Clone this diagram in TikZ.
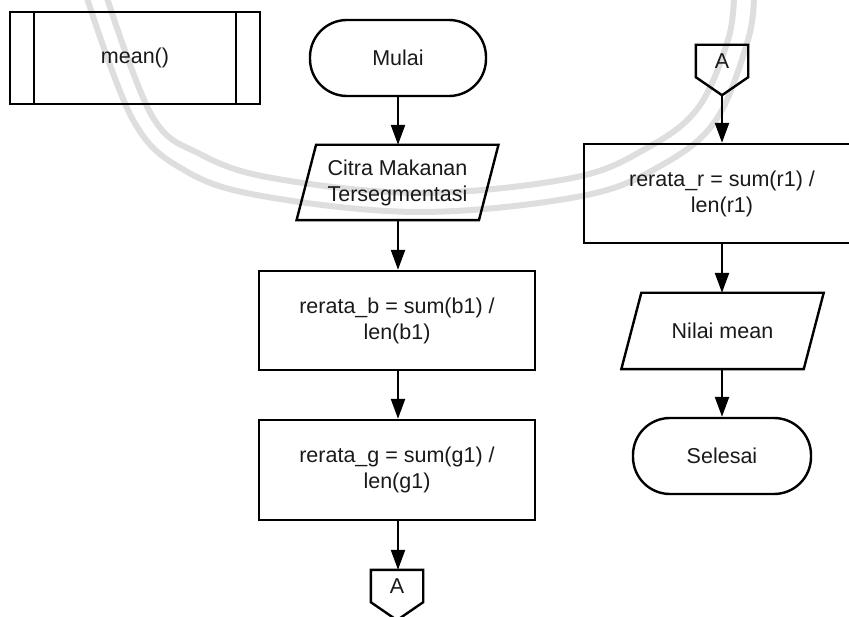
\documentclass[tikz,border=0pt]{standalone}
\usepackage{fontspec}
\setmainfont{Liberation Sans}
\usetikzlibrary{arrows.meta}
\begin{document}
\begin{tikzpicture}[x=1pt,y=-1pt,
  every node/.style={font=\fontsize{21.5}{26}\selectfont, text=black!90, inner sep=0pt},
  edge/.style={draw=black, line width=2.4pt},
  procbox/.style={edge, rectangle, minimum width=276pt, minimum height=99pt, align=center},
  termbox/.style={edge, rectangle, rounded corners=37pt, minimum height=76pt, align=center},
  iobox/.style={rectangle, minimum width=182pt, minimum height=75pt, align=center},
  pagebox/.style={rectangle, minimum width=52pt, minimum height=32pt},
  flow/.style={edge, -{Triangle[length=20pt,width=14pt]}},
  wm/.style={draw=black!13, line width=6pt, line cap=round}]
\useasboundingbox (0,0) rectangle (849,617);
\clip (0,0) rectangle (849,617);

% faint background seal
\draw[wm] plot[smooth, tension=0.6] coordinates {(86,-5) (133,120) (184,170) (262,196) (420,212) (582,196) (662,165) (716,120) (748,40) (754,-5)};
\draw[wm] plot[smooth, tension=0.6] coordinates {(106,-5) (152,116) (200,154) (272,178) (420,193) (572,178) (647,148) (698,108) (728,40) (734,-5)};

% predefined process
\node[procbox, minimum width=250pt, minimum height=92pt] (mean) at (135,58) {mean()};
\draw[edge] ([xshift=25pt]mean.north west) -- ([xshift=25pt]mean.south west);
\draw[edge] ([xshift=-25pt]mean.north east) -- ([xshift=-25pt]mean.south east);

% left column
\node[termbox, minimum width=176pt] (mulai) at (398,58) {Mulai};
\node[iobox] (citra) at (397.5,182.5) {Citra Makanan\\Tersegmentasi};
\draw[edge] ([xshift=9.75pt]citra.north west) -- ([xshift=9.75pt]citra.north east)
  -- ([xshift=-9.75pt]citra.south east) -- ([xshift=-9.75pt]citra.south west) -- cycle;
\node[procbox] (rb) at (397,320.5) {rerata\_b = sum(b1) /\\len(b1)};
\node[procbox, minimum height=100pt] (rg) at (397,470) {rerata\_g = sum(g1) /\\len(g1)};
\node[pagebox] (aout) at (397,586) {A};
\coordinate (aouttip) at ([yshift=-18pt]aout.south);
\draw[edge] (aout.north west) -- (aout.north east) -- (aout.south east) -- (aouttip)
  -- (aout.south west) -- cycle;

% right column
\node[pagebox] (ain) at (722,61) {A};
\coordinate (aintip) at ([yshift=-18pt]ain.south);
\draw[edge] (ain.north west) -- (ain.north east) -- (ain.south east) -- (aintip)
  -- (ain.south west) -- cycle;
\node[procbox] (rr) at (722,193.5) {rerata\_r = sum(r1) /\\len(r1)};
\node[iobox, minimum height=76pt] (nilai) at (722.5,331) {Nilai mean};
\draw[edge] ([xshift=10pt]nilai.north west) -- ([xshift=10pt]nilai.north east)
  -- ([xshift=-10pt]nilai.south east) -- ([xshift=-10pt]nilai.south west) -- cycle;
\node[termbox, minimum width=178pt] (selesai) at (722,456) {Selesai};

% connectors
\draw[flow] (mulai.south) -- (mulai.south |- citra.north);
\draw[flow] (mulai.south |- citra.south) -- (mulai.south |- rb.north);
\draw[flow] (mulai.south |- rb.south) -- (mulai.south |- rg.north);
\draw[flow] (mulai.south |- rg.south) -- (mulai.south |- aout.north);
\draw[flow] (aintip) -- (aintip |- rr.north);
\draw[flow] (aintip |- rr.south) -- (aintip |- nilai.north);
\draw[flow] (aintip |- nilai.south) -- (aintip |- selesai.north);
\end{tikzpicture}
\end{document}
